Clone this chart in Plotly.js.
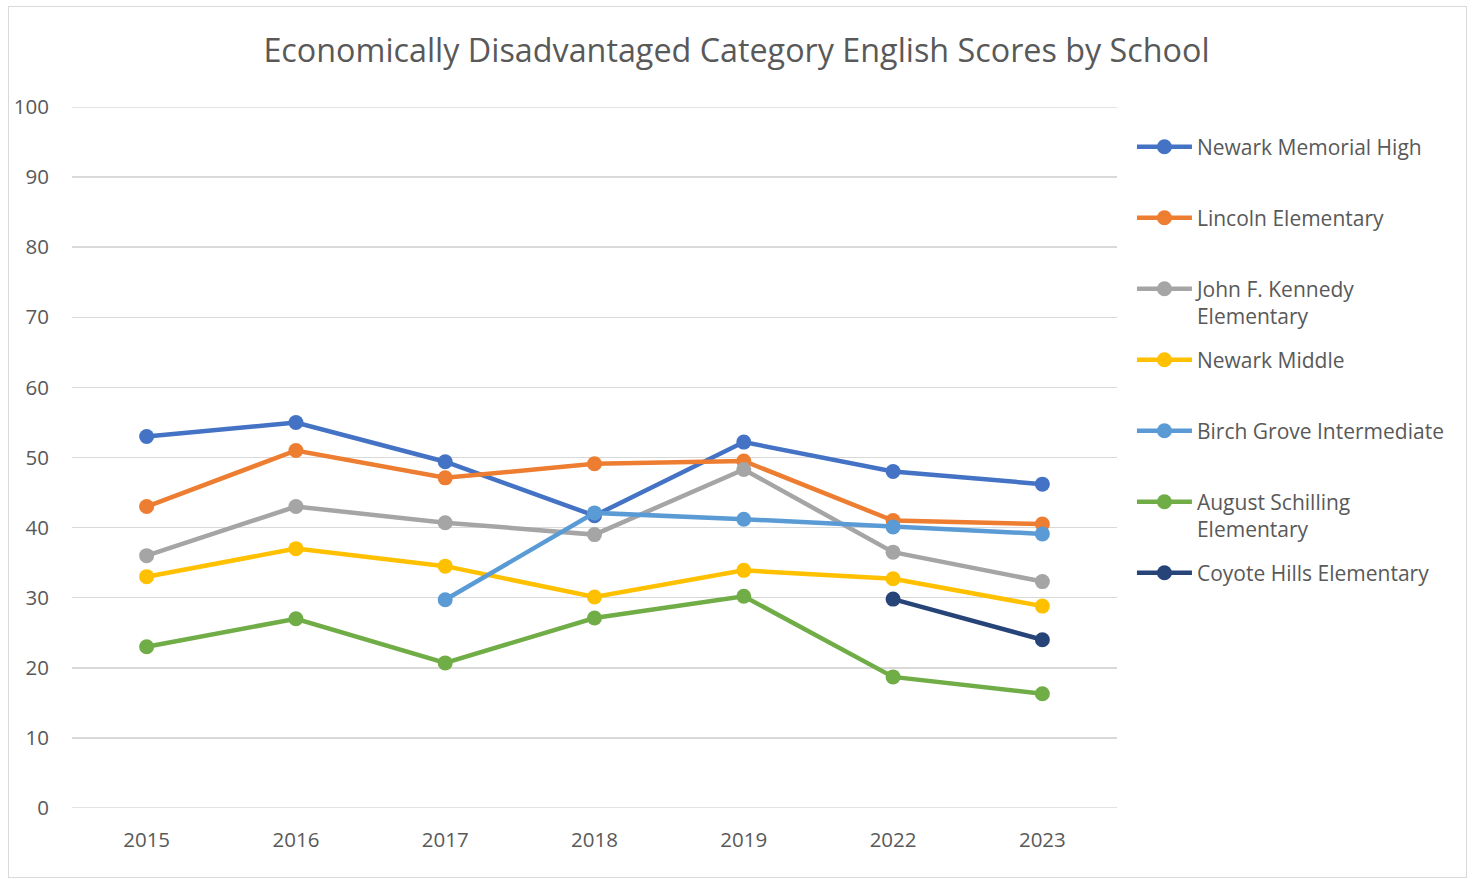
<!DOCTYPE html>
<html>
<head>
<meta charset="utf-8">
<script src="https://cdn.plot.ly/plotly-3.0.1.min.js"></script>
<style>
  html, body { margin: 0; padding: 0; background: #ffffff; }
  #chart { width: 1473px; height: 879px; }
  #frame { position: absolute; left: 8px; top: 6px; width: 1457px; height: 870px; border: 1px solid #d9d9d9; pointer-events: none; }
</style>
</head>
<body>
<div id="chart"></div>
<div id="frame"></div>
<script>
const years = ["2015", "2016", "2017", "2018", "2019", "2022", "2023"];

const newarkMemorialHigh = [53, 55, 49.4, 41.7, 52.2, 48, 46.2];
const lincolnElementary = [43, 51, 47.1, 49.1, 49.5, 41, 40.5];
const jfkElementary = [36, 43, 40.7, 39, 48.3, 36.5, 32.3];
const newarkMiddle = [33, 37, 34.5, 30.1, 33.9, 32.7, 28.8];
const birchGrove = [null, null, 29.7, 42.1, 41.2, 40.1, 39.1];
const augustSchilling = [23, 27, 20.7, 27.1, 30.2, 18.7, 16.3];
const coyoteHills = [null, null, null, null, null, 29.8, 24];

const seriesNames = [
  "Newark Memorial High<br>&nbsp;",
  "Lincoln Elementary<br>&nbsp;",
  "John F. Kennedy<br>Elementary",
  "Newark Middle<br>&nbsp;",
  "Birch Grove Intermediate<br>&nbsp;",
  "August Schilling<br>Elementary",
  "Coyote Hills Elementary<br>&nbsp;"
];
const seriesValues = [newarkMemorialHigh, lincolnElementary, jfkElementary, newarkMiddle, birchGrove, augustSchilling, coyoteHills];
const seriesColors = ["#4472C4", "#ED7D31", "#A5A5A5", "#FFC000", "#5B9BD5", "#70AD47", "#264478"];

const font = "Open Sans, Noto Sans, sans-serif";

const traces = seriesValues.map((vals, i) => ({
  type: "scatter",
  mode: "lines+markers",
  x: years,
  y: vals,
  name: seriesNames[i],
  legendgroup: "g" + i,
  line: { color: seriesColors[i], width: 4.5 },
  marker: { color: seriesColors[i], size: 15 },
  connectgaps: false
}));

const layout = {
  width: 1473,
  height: 879,
  margin: { l: 72, r: 356, t: 107, b: 71 },
  paper_bgcolor: "#ffffff",
  plot_bgcolor: "#ffffff",
  font: { family: font, color: "#595959", size: 20 },
  title: {
    text: "Economically Disadvantaged Category English Scores by School",
    font: { family: font, size: 32.3, color: "#595959" },
    x: 0.5,
    xref: "container",
    y: 1 - 51 / 879,
    yref: "container",
    yanchor: "middle"
  },
  xaxis: {
    type: "category",
    range: [-0.5, 6.5],
    showgrid: false,
    zeroline: false,
    showline: false,
    ticks: "",
    ticklabelstandoff: 17,
    tickfont: { family: font, size: 20.5, color: "#595959" },
    fixedrange: true
  },
  yaxis: {
    range: [0, 100],
    dtick: 10,
    tick0: 0,
    showgrid: true,
    gridcolor: "#d9d9d9",
    gridwidth: 1.5,
    zeroline: false,
    showline: false,
    ticks: "",
    ticklabelstandoff: 22,
    tickfont: { family: font, size: 20.5, color: "#595959" },
    fixedrange: true
  },
  showlegend: true,
  legend: {
    x: 1.0143,
    xanchor: "left",
    y: 0.972,
    yanchor: "top",
    valign: "top",
    tracegroupgap: 13.4,
    itemwidth: 55,
    font: { family: font, size: 21, color: "#595959" },
    bgcolor: "rgba(0,0,0,0)"
  },
  shapes: [
    { type: "line", xref: "paper", yref: "y", x0: 0, x1: 1, y0: 0, y1: 0, line: { color: "#d9d9d9", width: 1.5 } },
    { type: "line", xref: "paper", yref: "y", x0: 0, x1: 1, y0: 100, y1: 100, line: { color: "#d9d9d9", width: 1.5 } }
  ]
};

Plotly.newPlot("chart", traces, layout, { displayModeBar: false, staticPlot: true });
</script>
</body>
</html>
